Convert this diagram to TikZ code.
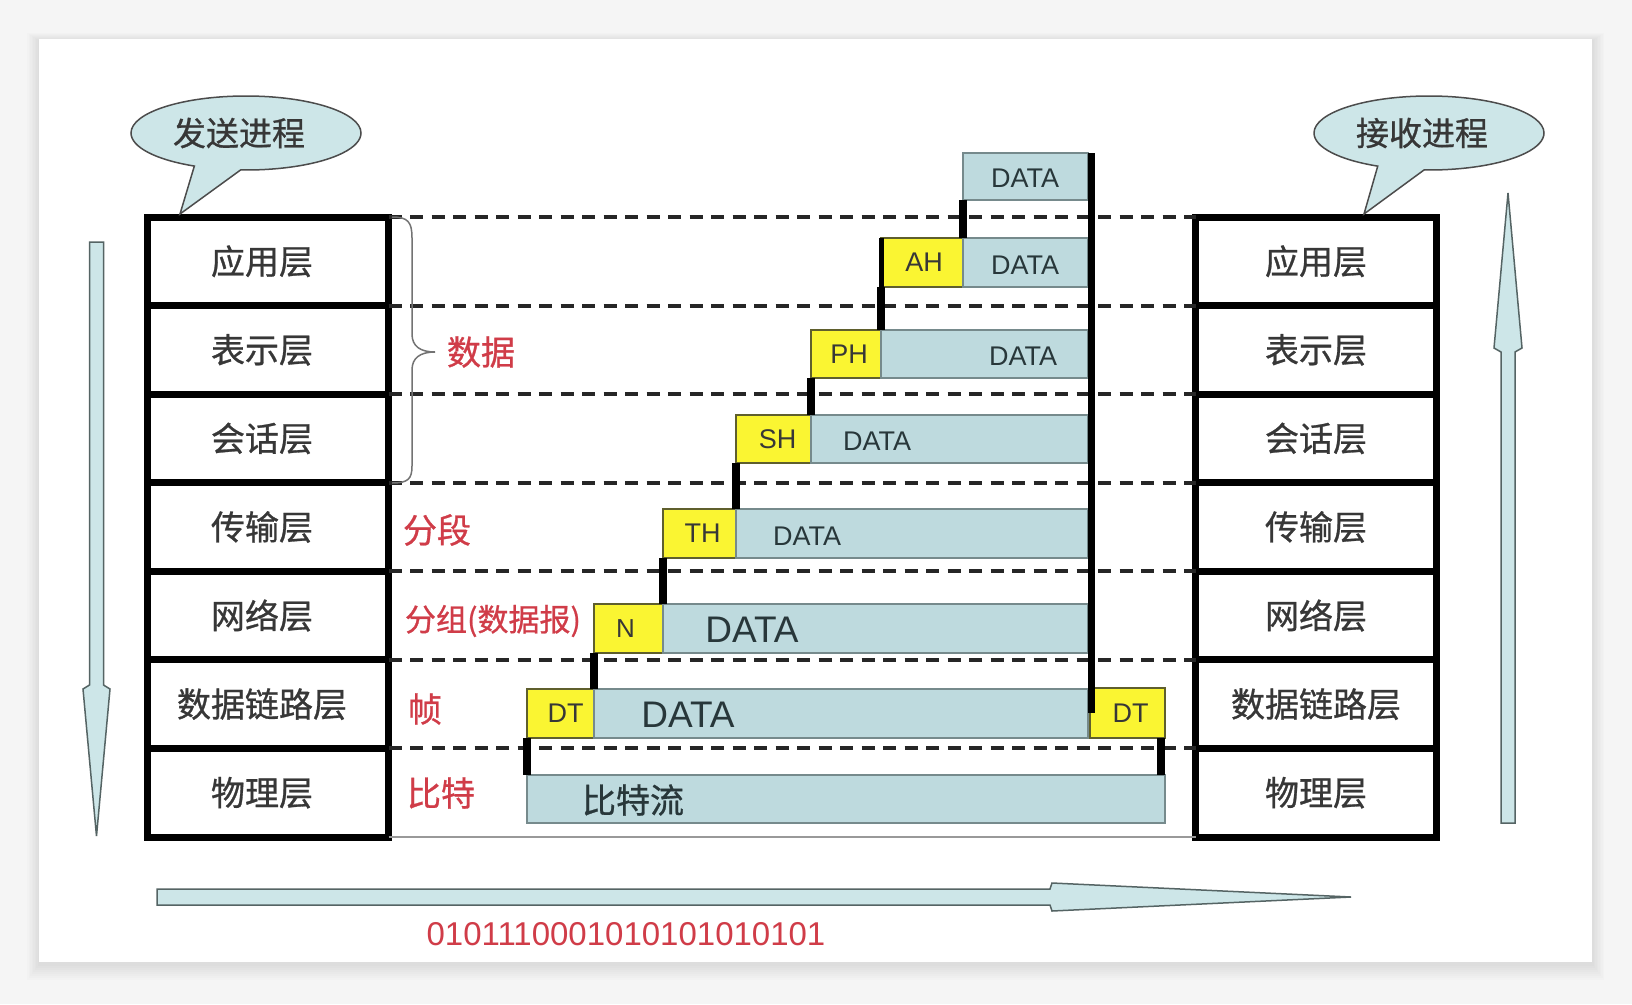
\documentclass[tikz,border=0pt]{standalone}
\usepackage{fontspec}
\setmainfont{Liberation Sans}
\newfontfamily\cjk[FakeBold=0.8]{Noto Sans CJK SC}
\usetikzlibrary{shapes.callouts}
\newcommand\myfs[1]{\fontsize{#1}{#1}\selectfont}
\definecolor{bgray}{RGB}{245,245,245}
\definecolor{pale}{RGB}{205,230,232}
\definecolor{blk}{RGB}{190,218,222}
\definecolor{blkline}{RGB}{118,138,140}
\definecolor{yel}{RGB}{250,245,50}
\definecolor{yelline}{RGB}{95,95,45}
\definecolor{lbl}{RGB}{55,55,55}
\definecolor{redl}{RGB}{208,60,72}
\definecolor{datatxt}{RGB}{40,55,58}
\definecolor{arrline}{RGB}{85,100,100}
\begin{document}
\begin{tikzpicture}[x=1pt,y=-1pt,
  layer/.style={draw=black, line width=7pt, minimum width=241pt, minimum height=88.57pt,
    inner sep=0pt, outer sep=0pt, font=\cjk\myfs{34}, text=lbl},
  dashline/.style={line width=4pt, dash pattern=on 13pt off 8.5pt, black!85},
  thinline/.style={line width=2pt, black!40},
  brace/.style={line width=1.5pt, black!55},
  redlbl/.style={font=\cjk\myfs{34}, text=redl, inner sep=0pt},
  blue/.style={draw=blkline, line width=2pt, fill=blk, inner sep=0pt, outer sep=0pt},
  yellow/.style={draw=yelline, line width=1.6pt, fill=yel, inner sep=0pt, outer sep=0pt,
    font=\myfs{27}, text=lbl},
  dtxt/.style={font=\myfs{27}, text=datatxt, inner sep=0pt},
  dtxtL/.style={font=\myfs{37}, text=datatxt, inner sep=0pt},
  conn/.style={line width=7.5pt, black},
  bigarrow/.style={fill=pale, draw=arrline, line width=1.5pt, line join=miter},
  bubble/.style={ellipse callout, draw=black!70, fill=pale, line width=1.5pt,
    minimum width=230pt, minimum height=74pt, inner sep=0pt, callout pointer arc=24,
    font=\cjk\myfs{33}, text=lbl}
]
\useasboundingbox (0,0) rectangle (1632,1004);
% background and card
\fill[bgray] (0,0) rectangle (1632,1004);
\foreach \i in {1,...,8}
  \fill[black, opacity=0.012] (39-1.5*\i,41-\i) rectangle (1592+1.5*\i,964+2*\i);
\fill[white] (39,39) rectangle (1592,962);

% layer stacks
\foreach \n/\t [count=\i] in {1/应用层,2/表示层,3/会话层,4/传输层,5/网络层,6/数据链路层,7/物理层}{
  \node[layer] (L\n) at (268,{217+88.571*(\i-0.5)}) {\hspace*{-12pt}\t};
  \node[layer] (R\n) at (1316,{217+88.571*(\i-0.5)}) {\t};
}

% dashed separators
\draw[dashline] (L1.north east) -- (R1.north west);
\foreach \i in {1,...,6}
  \draw[dashline] (L\i.south east) -- (R\i.south west);
\draw[thinline] (L7.south east) -- (R7.south west);

% brace
\draw[brace] (392,217) .. controls (408,217) and (412,222) .. (412,238) -- (412,334)
  .. controls (412,346) and (420,352) .. (435,352)
  .. controls (420,352) and (412,358) .. (412,370) -- (412,466)
  .. controls (412,479) and (408,483) .. (392,483);

% red labels
\node[redlbl] (lData) at (481,352) {数据};
\node[redlbl] (lSeg) at (437,530) {分段};
\node[redlbl, font=\cjk\myfs{31}] (lPkt) at (493,621) {分组(数据报)};
\node[redlbl] (lFrame) at (425,709) {帧};
\node[redlbl] (lBit) at (441,793) {比特};

% data blocks
\node[blue, minimum width=125pt, minimum height=47pt] (A) at (1025.5,176.5) {};
\node[dtxt] (tA) at (1025,178) {DATA};

\node[yellow, minimum width=82pt, minimum height=49pt] (AH) at (922,262.5) {\hspace*{4pt}AH};
\node[blue, minimum width=125pt, minimum height=49pt] (AHd) at (1025.5,262.5) {};
\node[dtxt] (tAH) at (1025,265) {DATA};

\node[yellow, minimum width=70pt, minimum height=48pt] (PH) at (846,354) {\hspace*{6pt}PH};
\node[blue, minimum width=207pt, minimum height=48pt] (PHd) at (984.5,354) {};
\node[dtxt] (tPH) at (1023,356) {DATA};

\node[yellow, minimum width=75pt, minimum height=48pt] (SH) at (773.5,439) {\hspace*{8pt}SH};
\node[blue, minimum width=277pt, minimum height=48pt] (SHd) at (949.5,439) {};
\node[dtxt] (tSH) at (877,441) {DATA};

\node[yellow, minimum width=73pt, minimum height=49pt] (TH) at (699.5,533.5) {\hspace*{6pt}TH};
\node[blue, minimum width=352pt, minimum height=49pt] (THd) at (912,533.5) {};
\node[dtxt] (tTH) at (807,536) {DATA};

\node[yellow, minimum width=69pt, minimum height=49pt, font=\myfs{26}] (N) at (628.5,628.5) {\hspace*{-6pt}N};
\node[blue, minimum width=425pt, minimum height=49pt] (Nd) at (875.5,628.5) {};
\node[dtxtL] (tN) at (752,630) {DATA};

\node[yellow, minimum width=67pt, minimum height=49pt] (DT) at (560.5,713.5) {\hspace*{10pt}DT};
\node[blue, minimum width=494pt, minimum height=49pt] (DTd) at (841,713.5) {};
\node[dtxtL] (tDT) at (688,715) {DATA};
\node[yellow, minimum width=75pt, minimum height=50pt] (DTr) at (1127.5,713) {\hspace*{6pt}DT};

\node[blue, minimum width=638pt, minimum height=48pt] (bits) at (846,799) {};
\node[font=\cjk\myfs{34}, text=datatxt, inner sep=0pt] (tbits) at (633,800) {比特流};

% black connectors
\draw[conn] (A.south west) -- (AHd.north west);
\draw[line width=5pt, black] (AH.north west) -- (AH.south west);
\draw[conn] (AH.south west) -- (PHd.north west);
\draw[conn] (PH.south west) -- (SHd.north west);
\draw[conn] (SH.south west) -- (THd.north west);
\draw[conn] (TH.south west) -- (Nd.north west);
\draw[conn] (N.south west) -- (DTd.north west);
\draw[conn] (DT.south west) -- (bits.north west);
\draw[conn] ([xshift=-4pt]DTr.south east) -- ([xshift=-4pt]bits.north east);
\draw[line width=7pt, black] ([xshift=3pt]A.north east) -- ([xshift=3pt]A.north east |- DTr.west);

% big arrows
\draw[bigarrow] (89.5,242) -- (103.5,242) -- (103.5,685) -- (110,689) -- (96.5,836)
  -- (83,689) -- (89.5,685) -- cycle;
\draw[bigarrow] (1501,823) -- (1515,823) -- (1515,352) -- (1522,348) -- (1508,193)
  -- (1494,348) -- (1501,352) -- cycle;
\draw[bigarrow] (157,889) -- (1050,889) -- (1052,883) -- (1351,897) -- (1052,911)
  -- (1050,905) -- (157,905) -- cycle;

% bit string
\node[font=\myfs{33}, text=redl, inner sep=0pt] (bin) at (626,934) {0101110001010101010101};

% speech bubbles
\node[bubble, callout absolute pointer={(180,214)}] (send) at (246,133) {\hspace*{-14pt}发送进程};
\node[bubble, callout absolute pointer={(1364,214)}] (recv) at (1429,133) {\hspace*{-14pt}接收进程};
\end{tikzpicture}
\end{document}
